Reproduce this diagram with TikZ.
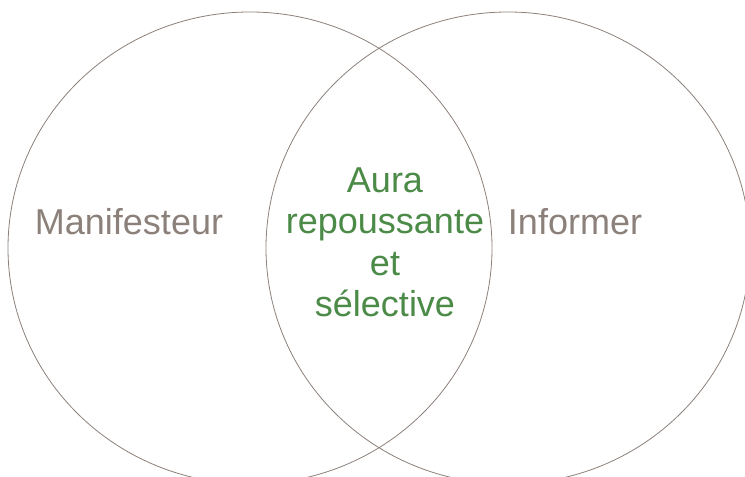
\documentclass[tikz,border=0pt]{standalone}
\usepackage{fontspec}
\setmainfont{Liberation Sans}
\usetikzlibrary{positioning}
\definecolor{taupe}{HTML}{8C807A}
\definecolor{leaf}{HTML}{4B8A47}

\tikzset{
  setring/.style={draw=taupe, line width=0.8pt},
  setlabel/.style={text=taupe, font=\fontsize{36}{41.5}\selectfont, inner sep=0pt},
  overlaplabel/.style={text=leaf, font=\fontsize{36}{41.5}\selectfont, align=center, inner sep=0pt}
}

\begin{document}
\begin{tikzpicture}[x=1pt, y=1pt]
   \useasboundingbox (0, 0) rectangle (745, 477);

   \draw[setring] (250, 229) ellipse (242 and 236);
   \draw[setring] (508, 229) ellipse (242 and 236);

   \node[setlabel, anchor=base] (manif) at (129, 242) {Manifesteur};
   \node[setlabel, anchor=base] (inform) at (575, 242) {Informer};

   \node[overlaplabel, anchor=base] (aura) at (385, 160) {Aura\\repoussante\\et\\sélective};
\end{tikzpicture}
\end{document}
